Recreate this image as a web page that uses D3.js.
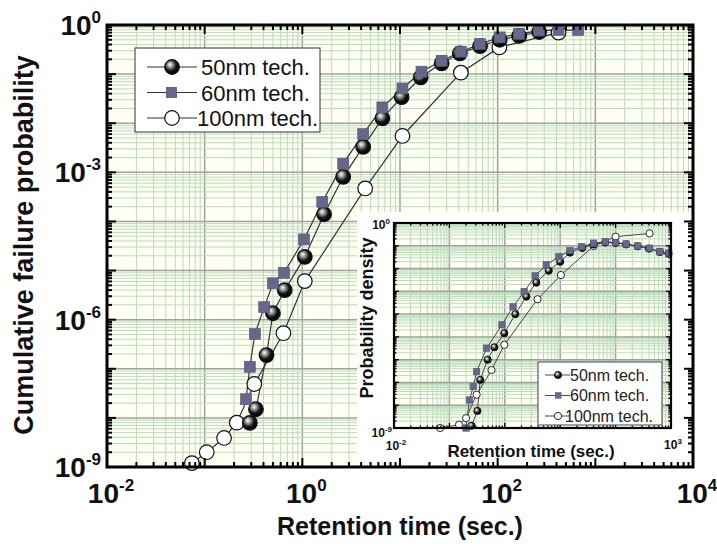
<!DOCTYPE html>
<html>
<head>
<meta charset="utf-8">
<script src="https://cdn.jsdelivr.net/npm/d3@7"></script>
<style>
  body { margin: 0; background: #fff; }
  text { font-family: "Liberation Sans", Arial, sans-serif; }
</style>
</head>
<body>
<script>
var width = 717,
    height = 544;

// main plot data (seconds, cumulative probability)
var t50 = [0.29, 0.335, 0.43, 0.50, 0.66, 1.06, 1.67, 2.62, 4.2, 6.6, 10.4, 16.3, 26.7, 41, 66, 105, 166, 266];
var p50 = [7.9e-9, 1.5e-8, 1.9e-7, 1.35e-6, 4e-6, 1.9e-5, 1.4e-4, 8.1e-4, 3.3e-3, 0.0126, 0.034, 0.086, 0.166, 0.265, 0.37, 0.5, 0.6, 0.72];
var t60 = [0.265, 0.29, 0.327, 0.407, 0.50, 0.65, 1.04, 1.6, 2.62, 4.2, 6.6, 10.6, 16.6, 26.7, 42, 66, 105, 166, 266, 420, 667];
var p60 = [2.4e-8, 1.1e-7, 5.1e-7, 1.8e-6, 5.5e-6, 9e-6, 4.3e-5, 2.5e-4, 1.5e-3, 6e-3, 0.021, 0.051, 0.112, 0.187, 0.286, 0.41, 0.56, 0.66, 0.77, 0.79, 0.79];
var t100 = [0.074, 0.105, 0.158, 0.213, 0.322, 0.64, 1.06, 4.4, 10.6, 42, 104, 420];
var p100 = [1.2e-9, 2e-9, 3.9e-9, 8e-9, 4.9e-8, 5.3e-7, 6.1e-6, 4.7e-4, 5.5e-3, 0.107, 0.35, 0.70];

// inset data (probability density)
var it50 = [0.25, 0.32, 0.36, 0.49, 0.65, 0.98, 1.55, 2.45, 3.7, 6.2, 10, 15, 25, 40, 65, 100, 155, 250, 400, 630, 900];
var ip50 = [1.26e-9, 5.6e-9, 1.3e-7, 1e-6, 3.5e-6, 1.45e-5, 1e-4, 5.9e-4, 2.4e-3, 8.1e-3, 0.02, 0.05, 0.08, 0.115, 0.14, 0.132, 0.115, 0.095, 0.075, 0.053, 0.045];
var it60 = [0.2, 0.23, 0.27, 0.31, 0.47, 0.89, 1.41, 2.24, 3.55, 5.6, 9.5, 15, 24.5, 40, 65, 100, 155, 250, 410, 630, 910];
var ip60 = [1e-9, 1.7e-8, 6.6e-8, 3e-7, 3.2e-6, 3.4e-5, 2.1e-4, 9.8e-4, 4.8e-3, 0.0145, 0.033, 0.062, 0.091, 0.13, 0.15, 0.138, 0.12, 0.098, 0.078, 0.055, 0.047];
var it100 = [0.068, 0.149, 0.2, 0.31, 0.575, 0.98, 3.9, 10.3, 40, 100, 410];
var ip100 = [1e-9, 1.4e-9, 2.7e-9, 2.9e-8, 3.5e-7, 4.5e-6, 4.5e-4, 5.2e-3, 0.098, 0.25, 0.35];

var seriesNames = ["50nm tech.", "60nm tech.", "100nm tech."];
var xTickExp = [-2, 0, 2, 4];
var yTickExp = [0, -3, -6, -9];

var svg = d3.select("body").append("svg")
    .attr("width", width)
    .attr("height", height);

var defs = svg.append("defs");
var grad = defs.append("radialGradient").attr("id", "ball")
    .attr("cx", "42%").attr("cy", "40%").attr("r", "60%").attr("fx", "35%").attr("fy", "32%");
grad.append("stop").attr("offset", "0%").attr("stop-color", "#ffffff");
grad.append("stop").attr("offset", "30%").attr("stop-color", "#9a9a9a");
grad.append("stop").attr("offset", "65%").attr("stop-color", "#151515");
grad.append("stop").attr("offset", "100%").attr("stop-color", "#000");

var sqColor = "#67678a";

function zip(ts, ps) { return ts.map(function(t, i) { return [t, ps[i]]; }); }

// draws grid + curves for one log/log panel
function panel(g, x, y, data, opt) {
  var x0 = x.range()[0], x1 = x.range()[1], y0 = y.range()[1], y1 = y.range()[0];
  g.append("rect").attr("x", x0).attr("y", y0).attr("width", x1 - x0).attr("height", y1 - y0)
      .attr("fill", "#fffff4");
  var xt = x.ticks(), yt = y.ticks();
  function isMajor(v) { return Math.abs(Math.log10(v) - Math.round(Math.log10(v))) < 1e-6; }
  g.selectAll(".vx").data(xt).enter().append("line")
      .attr("x1", x).attr("x2", x).attr("y1", y0).attr("y2", y1)
      .attr("stroke", function(d) { return isMajor(d) ? "#a0a0a0" : "#b9dcb9"; })
      .attr("stroke-width", function(d) { return isMajor(d) ? 1.5 : 1; });
  g.selectAll(".hy").data(yt).enter().append("line")
      .attr("y1", y).attr("y2", y).attr("x1", x0).attr("x2", x1)
      .attr("stroke", function(d) { return isMajor(d) ? "#a0a0a0" : "#b9dcb9"; })
      .attr("stroke-width", function(d) { return isMajor(d) ? 1.5 : 1; });

  var line = d3.line().x(function(d) { return x(d[0]); }).y(function(d) { return y(d[1]); });
  data.forEach(function(s) {
    g.append("path").datum(s.pts).attr("d", line)
        .attr("fill", "none").attr("stroke", "#333").attr("stroke-width", opt.lw);
  });
  // markers: 100nm, 50nm, then 60nm on top
  [2, 0, 1].forEach(function(k) {
    var s = data[k];
    var sel = g.selectAll(".m" + k).data(s.pts).enter();
    if (k === 1) {
      sel.append("rect")
          .attr("x", function(d) { return x(d[0]) - opt.sq / 2; })
          .attr("y", function(d) { return y(d[1]) - opt.sq / 2; })
          .attr("width", opt.sq).attr("height", opt.sq)
          .attr("fill", sqColor).attr("stroke", "#555577").attr("stroke-width", 0.6);
    } else {
      sel.append("circle")
          .attr("cx", function(d) { return x(d[0]); })
          .attr("cy", function(d) { return y(d[1]); })
          .attr("r", opt.r)
          .attr("fill", k === 0 ? "url(#ball)" : "#fff")
          .attr("stroke", "#111").attr("stroke-width", opt.mw);
    }
  });
}

function frame(g, x, y, opt) {
  var x0 = x.range()[0], x1 = x.range()[1], y0 = y.range()[1], y1 = y.range()[0];
  function isMajor(v) { return Math.abs(Math.log10(v) - Math.round(Math.log10(v))) < 1e-6; }
  var xt = x.ticks(), yt = y.ticks();
  [y0, y1].forEach(function(yy, i) {
    var dir = i === 0 ? 1 : -1;
    g.selectAll(null).data(xt).enter().append("line")
        .attr("x1", x).attr("x2", x).attr("y1", yy)
        .attr("y2", function(d) { return yy + dir * (isMajor(d) ? opt.major : opt.minor); })
        .attr("stroke", "#000").attr("stroke-width", opt.tw);
  });
  [x0, x1].forEach(function(xx, i) {
    var dir = i === 0 ? 1 : -1;
    g.selectAll(null).data(yt).enter().append("line")
        .attr("y1", y).attr("y2", y).attr("x1", xx)
        .attr("x2", function(d) { return xx + dir * (isMajor(d) ? opt.major : opt.minor); })
        .attr("stroke", "#000").attr("stroke-width", opt.tw);
  });
  g.append("rect").attr("x", x0).attr("y", y0).attr("width", x1 - x0).attr("height", y1 - y0)
      .attr("fill", "none").attr("stroke", "#000").attr("stroke-width", opt.fw);
}

function powLabel(g, px, py, e, anchor, big, small, rise) {
  var t = g.append("text").attr("x", px).attr("y", py)
      .attr("text-anchor", anchor).attr("font-weight", "bold").attr("fill", "#111");
  t.append("tspan").attr("font-size", big).text("10");
  t.append("tspan").attr("font-size", small).attr("dy", -rise).text(e);
}

// ---- main panel
var x = d3.scaleLog().domain([1e-2, 1e4]).range([107, 693]);
var y = d3.scaleLog().domain([1e-9, 1]).range([467, 25]);

var mainData = [
  { name: seriesNames[0], pts: zip(t50, p50) },
  { name: seriesNames[1], pts: zip(t60, p60) },
  { name: seriesNames[2], pts: zip(t100, p100) }
];
var gm = svg.append("g");
panel(gm, x, y, mainData, { lw: 1.2, r: 7.3, sq: 11, mw: 1.2 });

// main legend
var lg = svg.append("g");
lg.append("rect").attr("x", 135).attr("y", 48).attr("width", 185).attr("height", 84)
    .attr("fill", "#fff").attr("stroke", "#333").attr("stroke-width", 1);
seriesNames.forEach(function(n, i) {
  var yy = 67 + i * 25.5;
  lg.append("line").attr("x1", 147).attr("x2", 197).attr("y1", yy).attr("y2", yy)
      .attr("stroke", "#333").attr("stroke-width", 1.2);
  if (i === 1) {
    lg.append("rect").attr("x", 166).attr("y", yy - 5.5).attr("width", 11).attr("height", 11).attr("fill", sqColor);
  } else {
    lg.append("circle").attr("cx", 172).attr("cy", yy).attr("r", 7.3)
        .attr("fill", i === 0 ? "url(#ball)" : "#fff").attr("stroke", "#111").attr("stroke-width", 1.2);
  }
  lg.append("text").attr("x", i === 2 ? 197 : 201).attr("y", yy + 8)
      .attr("font-size", 22).attr("fill", "#111").text(n);
});

// ---- inset
var xi = d3.scaleLog().domain([1e-2, 1e3]).range([394, 671]);
var yi = d3.scaleLog().domain([1e-9, 1]).range([428, 223]);
svg.append("rect").attr("x", 357).attr("y", 212).attr("width", 332).attr("height", 252).attr("fill", "#fff");

var insetData = [
  { name: seriesNames[0], pts: zip(it50, ip50) },
  { name: seriesNames[1], pts: zip(it60, ip60) },
  { name: seriesNames[2], pts: zip(it100, ip100) }
];
var gi = svg.append("g");
panel(gi, xi, yi, insetData, { lw: 0.9, r: 3.6, sq: 6.5, mw: 0.9 });
frame(gi, xi, yi, { major: 5, minor: 2.5, tw: 1.3, fw: 2.2 });

var il = svg.append("g");
il.append("rect").attr("x", 538).attr("y", 362).attr("width", 124).attr("height", 63)
    .attr("fill", "#fff").attr("stroke", "#444").attr("stroke-width", 1);
seriesNames.forEach(function(n, i) {
  var yy = 375 + i * 20.5;
  il.append("line").attr("x1", 545).attr("x2", 570).attr("y1", yy).attr("y2", yy)
      .attr("stroke", "#333").attr("stroke-width", 0.9);
  if (i === 1) {
    il.append("rect").attr("x", 555).attr("y", yy - 3.3).attr("width", 6.5).attr("height", 6.5).attr("fill", sqColor);
  } else {
    il.append("circle").attr("cx", 558).attr("cy", yy).attr("r", 3.6)
        .attr("fill", i === 0 ? "url(#ball)" : "#fff").attr("stroke", "#111").attr("stroke-width", 0.9);
  }
  il.append("text").attr("x", i === 2 ? 565 : 570).attr("y", yy + 5.5)
      .attr("font-size", 16).attr("fill", "#222").text(n);
});

powLabel(svg, 390, 229, "0", "end", 12, 8, 5);
powLabel(svg, 392, 437, "-9", "end", 12, 8, 5);
powLabel(svg, 396, 450, "-2", "middle", 12, 8, 5);
powLabel(svg, 673, 449, "3", "middle", 12, 8, 5);

svg.append("text").attr("x", 531).attr("y", 457).attr("text-anchor", "middle")
    .attr("font-size", 17).attr("font-weight", "bold").attr("fill", "#111")
    .text("Retention time (sec.)");
svg.append("text").attr("transform", "translate(373,318) rotate(-90)").attr("text-anchor", "middle")
    .attr("font-size", 18).attr("font-weight", "bold").attr("fill", "#111")
    .text("Probability density");

// ---- main frame, ticks, labels
frame(svg.append("g"), x, y, { major: 9, minor: 5, tw: 2, fw: 3 });

xTickExp.forEach(function(e) {
  powLabel(svg, x(Math.pow(10, e)) + 4, 503, String(e), "middle", 28, 17, 12);
});
yTickExp.forEach(function(e) {
  powLabel(svg, 101, y(Math.pow(10, e)) + 10, String(e), "end", 28, 17, 12);
});

svg.append("text").attr("x", 400).attr("y", 535).attr("text-anchor", "middle")
    .attr("font-size", 25).attr("font-weight", "bold").attr("fill", "#111")
    .text("Retention time (sec.)");
svg.append("text").attr("transform", "translate(33,245) rotate(-90)").attr("text-anchor", "middle")
    .attr("font-size", 27).attr("font-weight", "bold").attr("fill", "#111")
    .text("Cumulative failure probability");
</script>
</body>
</html>
